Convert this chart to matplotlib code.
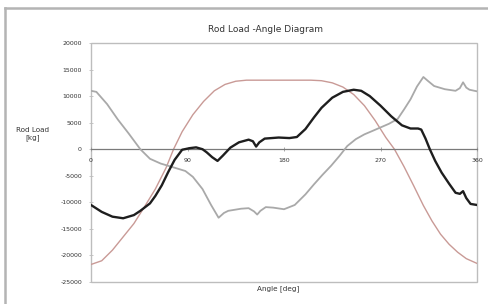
import matplotlib
matplotlib.use("Agg")
import matplotlib.pyplot as plt
from matplotlib.patches import Rectangle
from matplotlib.lines import Line2D

# ---- data ----
black_angle = [0, 10, 20, 30, 40, 46, 55, 60, 66, 72, 78, 85, 92, 98, 104, 108, 113, 118, 123, 130, 138,
               147, 151, 154, 157, 162, 175, 185, 192, 200, 208, 215, 225, 235, 245, 252, 260, 270,
               280, 290, 298, 305, 308, 312, 316, 321, 327, 334, 340, 344, 347, 350, 354, 360]
black_load = [-10500, -11800, -12700, -13000, -12400, -11600, -10200, -8800, -6800, -4300, -2000, -100,
              200, 350, 0, -600, -1500, -2200, -1200, 300, 1300, 1800, 1500, 500, 1300, 2000, 2200,
              2100, 2300, 3800, 6000, 7800, 9700, 10800, 11200, 11000, 10000, 8200, 6200, 4500,
              3900, 3900, 3700, 2000, 0, -2200, -4400, -6500, -8200, -8400, -7900, -9200, -10300,
              -10500]

gray_angle = [0, 5, 15, 25, 35, 46, 55, 65, 75, 88, 95, 104, 112, 119, 124, 128, 140, 147, 152, 155,
              158, 163, 170, 180, 190, 200, 208, 216, 224, 232, 239, 247, 255, 262, 270, 278, 286,
              292, 298, 304, 310, 314, 320, 330, 340, 344, 347, 350, 353, 360]
gray_load = [11000, 10800, 8500, 5600, 3000, 0, -1800, -2700, -3300, -4100, -5200, -7500, -10500,
             -12900, -12000, -11600, -11200, -11100, -11700, -12300, -11600, -10900, -11000, -11300,
             -10500, -8500, -6600, -4800, -3100, -1200, 600, 1900, 2800, 3400, 4100, 4800, 5700,
             7500, 9400, 11800, 13600, 12900, 11900, 11300, 11000, 11500, 12600, 11600, 11200, 10900]

red_angle = [0, 10, 20, 30, 40, 50, 60, 70, 77, 85, 95, 105, 115, 125, 135, 145, 180, 205, 215, 225,
             235, 245, 255, 265, 275, 283, 292, 301, 310, 318, 326, 334, 342, 350, 360]
red_load = [-21700, -21000, -19000, -16500, -14000, -10800, -7500, -3500, 0, 3300, 6500, 9000, 11000,
            12200, 12800, 13000, 13000, 13000, 12900, 12500, 11700, 10300, 8200, 5400, 2200, 0,
            -3300, -6900, -10600, -13500, -16000, -17900, -19400, -20600, -21500]

x_ticks = [0, 90, 180, 270, 360]
y_ticks = [20000, 15000, 10000, 5000, 0, -5000, -10000, -15000, -20000, -25000]

title = "Rod Load -Angle Diagram"
xlabel = "Angle [deg]"
ylabel = "Rod Load\n[kg]"

# ---- figure ----
fig = plt.figure(figsize=(4.89, 3.04), dpi=100)
W, H = 489, 304
ax = fig.add_axes([91 / W, 1 - 282 / H, (477 - 91) / W, (282 - 43) / H])

ax.plot(red_angle, red_load, color="#c99a96", lw=1.0, zorder=2)
ax.plot(gray_angle, gray_load, color="#a9a9a9", lw=1.3, zorder=3)
ax.plot(black_angle, black_load, color="#1e1e1e", lw=1.7, zorder=4)

ax.set_xlim(0, 360)
ax.set_ylim(-25000, 20000)

for s in ("top", "right", "left"):
    ax.spines[s].set_visible(False)
ax.spines["bottom"].set_position(("data", 0))
ax.spines["bottom"].set_color("#7a7a7a")
ax.spines["bottom"].set_linewidth(0.9)
ax.add_patch(Rectangle((0, 0), 1, 1, transform=ax.transAxes, fill=False,
                       edgecolor="#bdbdbd", lw=1.0, clip_on=False, zorder=1))

ax.set_xticks(x_ticks)
ax.set_xticklabels([str(v) for v in x_ticks])
ax.set_yticks(y_ticks)
ax.set_yticklabels([str(v) for v in y_ticks])
ax.tick_params(axis="x", direction="inout", length=3, width=0.6, color="#9a9a9a",
               labelsize=4.5, pad=5, labelcolor="#333333")
ax.tick_params(axis="y", direction="inout", length=3, width=0.6, color="#bdbdbd",
               labelsize=4.5, pad=5, labelcolor="#333333")

fig.text(266 / W, 1 - 30 / H, title, ha="center", va="center", fontsize=6.5, color="#333333")
fig.text(278 / W, 1 - 289 / H, xlabel, ha="center", va="center", fontsize=5.2, color="#333333")
fig.text(33 / W, 1 - 134 / H, ylabel, ha="center", va="center", fontsize=5.2, color="#333333",
         linespacing=1.1)

# outer chart frame (left and top edges)
fig.add_artist(Line2D([5 / W, 5 / W], [0, 1 - 8 / H], transform=fig.transFigure,
                      color="#b4b4b4", lw=1.8))
fig.add_artist(Line2D([5 / W, 1], [1 - 8 / H, 1 - 8 / H], transform=fig.transFigure,
                      color="#b4b4b4", lw=1.8))

fig.savefig("out.png", dpi=100, facecolor="white")
